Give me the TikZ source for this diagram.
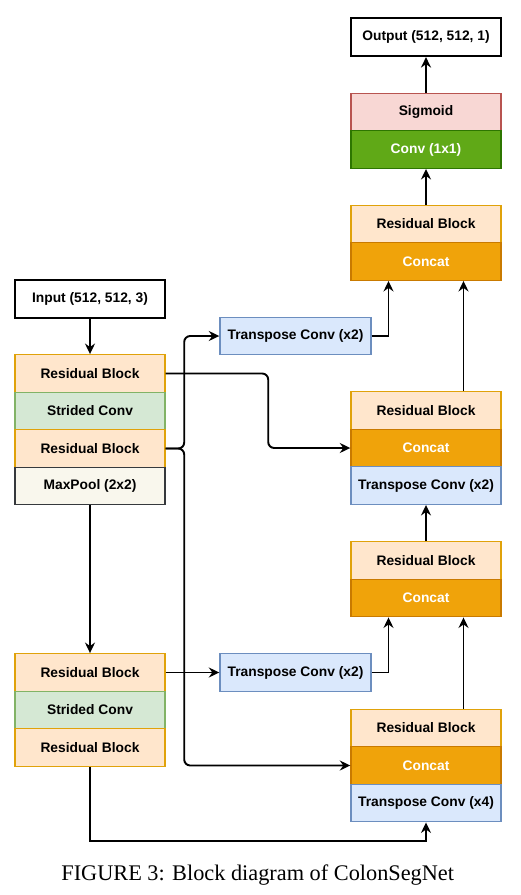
\documentclass[tikz,border=0pt]{standalone}
\usepackage{fontspec}
\setmainfont{Liberation Serif}
\setsansfont{Liberation Sans}
\usetikzlibrary{arrows.meta}
\definecolor{rbfill}{HTML}{FFE6CC}
\definecolor{rbdraw}{HTML}{E0A20A}
\definecolor{scfill}{HTML}{D5E8D4}
\definecolor{scdraw}{HTML}{82B366}
\definecolor{mpfill}{HTML}{F9F7ED}
\definecolor{mpdraw}{HTML}{36393D}
\definecolor{cafill}{HTML}{F0A30A}
\definecolor{cadraw}{HTML}{C97A00}
\definecolor{tcfill}{HTML}{DAE8FC}
\definecolor{tcdraw}{HTML}{6C8EBF}
\definecolor{sgfill}{HTML}{F8D7D4}
\definecolor{sgdraw}{HTML}{B85450}
\definecolor{cvfill}{HTML}{60A917}
\definecolor{cvdraw}{HTML}{2D7600}
\tikzset{
  blk/.style={rectangle, minimum width=150pt, minimum height=37.5pt, inner sep=0pt,
    line width=1.4pt, font=\sffamily\bfseries\fontsize{13.8}{16}\selectfont},
  iobox/.style={blk, fill=white, draw=black, line width=2.2pt, minimum height=38pt},
  resbox/.style={blk, fill=rbfill, draw=rbdraw},
  strbox/.style={blk, fill=scfill, draw=scdraw},
  poolbox/.style={blk, fill=mpfill, draw=mpdraw},
  catbox/.style={blk, fill=cafill, draw=cadraw, text=white},
  tcbox/.style={blk, fill=tcfill, draw=tcdraw, minimum width=151pt},
  sigbox/.style={blk, fill=sgfill, draw=sgdraw},
  convbox/.style={blk, fill=cvfill, draw=cvdraw, text=white},
  arr/.style={line width=1.9pt, -{Stealth[length=10.5pt,width=10pt,inset=3.5pt]}}
}
\begin{document}
\begin{tikzpicture}[x=1pt,y=-1pt]
\useasboundingbox (0,0) rectangle (521,895);
% left column
\node[iobox] (in) at (90,299) {Input (512, 512, 3)};
\node[resbox] (rb1) at (90,373.5) {Residual Block};
\node[strbox] (sc1) at (90,411) {Strided Conv};
\node[resbox] (rb2) at (90,448.5) {Residual Block};
\node[poolbox] (mp) at (90,486) {MaxPool (2x2)};
\node[resbox] (rb3) at (90,672.5) {Residual Block};
\node[strbox] (sc2) at (90,710) {Strided Conv};
\node[resbox] (rb4) at (90,747.5) {Residual Block};
% transpose convs
\node[tcbox] (tc1) at (295.5,336) {Transpose Conv (x2)};
\node[tcbox] (tc2) at (295.5,672.5) {Transpose Conv (x2)};
% right column
\node[iobox] (out) at (426,37) {Output (512, 512, 1)};
\node[sigbox] (sig) at (426,112) {Sigmoid};
\node[convbox] (c11) at (426,149.5) {Conv (1x1)};
\node[resbox] (rbA) at (426,224) {Residual Block};
\node[catbox] (caA) at (426,261.5) {Concat};
\node[resbox] (rbB) at (426,410.5) {Residual Block};
\node[catbox] (caB) at (426,448) {Concat};
\node[tcbox, minimum width=150pt] (tcB) at (426,485.5) {Transpose Conv (x2)};
\node[resbox] (rbC) at (426,560.5) {Residual Block};
\node[catbox] (caC) at (426,598) {Concat};
\node[resbox] (rbD) at (426,728) {Residual Block};
\node[catbox] (caD) at (426,765.5) {Concat};
\node[tcbox, minimum width=150pt] (tcD) at (426,803) {Transpose Conv (x4)};
% connectors
\draw[arr] (in) -- (rb1);
\draw[arr] (mp) -- (rb3);
\draw[arr, rounded corners=6pt] (rb1.east) -- ++(102.5,0) |- (caB.west);
\draw[arr, rounded corners=6pt] (rb2.east) -- ++(18.5,0) |- (tc1.west);
\draw[arr, rounded corners=6pt] (rb2.east) -- ++(18.5,0) |- (caD.west);
\draw[arr] (tc1.east) -| ([xshift=-37.5pt]caA.south);
\draw[arr] ([xshift=37.5pt]rbB.north) -- ([xshift=37.5pt]caA.south);
\draw[arr] (rbA) -- (c11);
\draw[arr] (sig) -- (out);
\draw[arr] (rbC) -- (tcB);
\draw[arr] (tc2.east) -| ([xshift=-37.5pt]caC.south);
\draw[arr] ([xshift=37.5pt]rbD.north) -- ([xshift=37.5pt]caC.south);
\draw[arr] (rb3) -- (tc2);
\coordinate (bend) at (90,841);
\draw[arr] (rb4.south) -- (bend) -| (tcD.south);
% caption
\node[anchor=base, font=\rmfamily\fontsize{22.3}{26}\selectfont, inner sep=0pt] (cap) at (257.7,880.5) {FIGURE 3: Block diagram of ColonSegNet};
\end{tikzpicture}
\end{document}
